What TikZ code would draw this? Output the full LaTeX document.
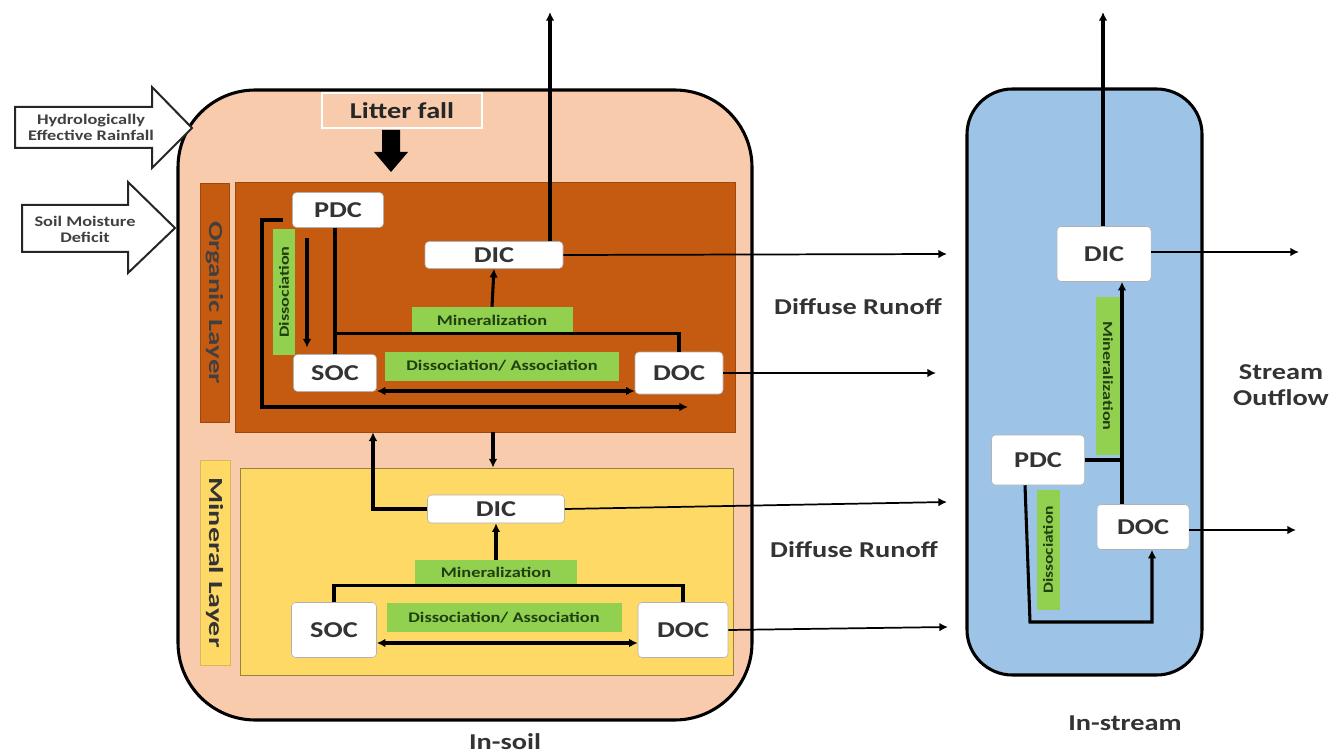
\documentclass[tikz,border=0pt]{standalone}
\usepackage{fontspec}
\setmainfont{Carlito}
\usetikzlibrary{arrows.meta}
\definecolor{soil}{HTML}{F8CBAD}
\definecolor{organic}{HTML}{C55A11}
\definecolor{mineral}{HTML}{FFD966}
\definecolor{stream}{HTML}{9DC3E6}
\definecolor{lgreen}{HTML}{92D050}
\definecolor{dgreen}{HTML}{1F3F10}
\definecolor{txt}{HTML}{333333}
\newcommand\hst[1]{\scalebox{1.25}[1]{#1}}
\newcommand\vst[2]{\scalebox{#1}[1]{#2}}
\tikzset{
  wh/.style 2 args={minimum width=#1*0.75pt, minimum height=#2*0.75pt, inner sep=0pt},
  cbox/.style={draw=black!30, fill=white, rounded corners=3pt, text=txt,
    font=\fontsize{17}{17}\selectfont\bfseries},
  glabel/.style={fill=lgreen, text=dgreen, font=\fontsize{11}{11}\selectfont\bfseries},
  glabelv/.style={fill=lgreen, text=dgreen, font=\fontsize{10.5}{10.5}\selectfont\bfseries},
  thickln/.style={line width=2.3pt, black},
  thinln/.style={line width=1.3pt, black},
  arr/.style={-{Latex[length=6.5pt,width=6.5pt]}},
  darr/.style={{Latex[length=6.5pt,width=6.5pt]}-{Latex[length=6.5pt,width=6.5pt]}},
  bigtxt/.style={text=txt, font=\fontsize{17}{17}\selectfont\bfseries},
  inarrow/.style={draw=black!85, line width=1.5pt, fill=white, line join=miter},
  intxt/.style={text=black!75, font=\fontsize{11}{11}\selectfont\bfseries, align=center},
}
\begin{document}
\begin{tikzpicture}[x=0.75pt,y=-0.75pt]
\useasboundingbox (0,0) rectangle (1330,755);

% ---------------- In-soil compartment
\node[draw=black, line width=2.3pt, fill=soil, rounded corners=58pt, wh={574}{630}] (soil) at (465,405) {};
\node[draw=white, line width=1.8pt, fill=soil, wh={160}{35}, bigtxt, text=black!85] (litter) at (402,110.5) {\hst{Litter fall}};
\fill[black] (382,130) -- (400,130) -- (400,152) -- (408,152) -- (391,172) -- (374,152) -- (382,152) -- cycle;

\node[fill=organic, draw=organic!80!black, line width=0.4pt, wh={29}{239}] (orglab) at (214.5,302.5) {};
\node[rotate=-90, text=black!75, font=\fontsize{15}{15}\selectfont\bfseries] (orgtxt) at (orglab) {\vst{1.45}{Organic Layer}};
\node[fill=organic, draw=organic!80!black, line width=0.5pt, wh={500}{250}] (org) at (485,307) {};

\node[fill=mineral, draw=mineral!85!black, line width=0.4pt, wh={30}{205}] (minlab) at (215,562.5) {};
\node[rotate=-90, text=black!80, font=\fontsize{15}{15}\selectfont\bfseries] (mintxt) at (minlab) {\vst{1.5}{Mineral Layer}};
\node[fill=mineral, draw=mineral!60!black, line width=0.6pt, wh={493}{207}] (minb) at (486.5,571.5) {};

% organic layer contents
\node[cbox, wh={91}{35}] (pdc1) at (338,210) {\hst{PDC}};
\node[cbox, wh={138}{27}] (dic1) at (494,255) {\hst{DIC}};
\node[cbox, wh={83}{37}] (soc1) at (335,373) {\hst{SOC}};
\node[cbox, wh={88}{42}] (doc1) at (679,373) {\hst{DOC}};
\node[glabel, wh={161}{26}] (min1) at (492,320) {\hst{Mineralization}};
\node[glabel, wh={234}{29}] (da1) at (502,366) {\hst{Dissociation/ Association}};
\node[glabelv, rotate=90, wh={125}{22}] (dis1) at (284,292) {\vst{1.3}{Dissociation}};

\coordinate (top1) at (550,12);
\coordinate (r1) at (947,254);
\coordinate (r2) at (936,373);
\coordinate (c307) at (307,0);
\coordinate (row1) at (0,391);
\coordinate (l1) at (262,407);
\coordinate (l2) at (688,407);

\draw[thickln, arr] (dic1.north -| top1) -- (top1);
\draw[thinln, arr] (dic1.east) -- (r1);
\draw[thickln, arr] (min1.north) -- (dic1.south);
\draw[thickln, arr, shorten <=8pt, shorten >=5pt] (pdc1.south -| c307) -- (soc1.north -| c307);
\draw[thickln] (soc1.north) -- (soc1.north |- pdc1.south);
\draw[thickln] (soc1.north) ++(0,-20) |- (min1.south) -| (doc1.north);
\draw[thickln, darr] (soc1.east |- row1) -- (doc1.west |- row1);
\draw[thickln, arr] ([yshift=-7.5pt, xshift=-7pt]pdc1.west) -| (l1) -- (l2);
\draw[thinln, arr] (doc1.east) -- (r2);

% between layers
\coordinate (c493) at (493,0);
\coordinate (c373) at (373,0);
\draw[thickln, arr] (org.south -| c493) -- (minb.north -| c493);

% mineral layer contents
\node[cbox, wh={137}{28}] (dic2) at (496,509) {\hst{DIC}};
\node[cbox, wh={85}{55}] (soc2) at (334,630) {\hst{SOC}};
\node[cbox, wh={90}{55}] (doc2) at (683,630) {\hst{DOC}};
\node[glabel, wh={162}{25}] (min2) at (496,572.5) {\hst{Mineralization}};
\node[glabel, wh={235}{29}] (da2) at (504,617.5) {\hst{Dissociation/ Association}};

\coordinate (row2) at (0,643);
\coordinate (r3) at (947,502);
\coordinate (r4) at (948,627);
\draw[thickln, arr] (dic2.west) -| (c373 |- org.south);
\draw[thinln, arr] (dic2.east) -- (r3);
\draw[thickln, arr] (min2.north) -- (dic2.south);
\draw[thickln] (soc2.north) |- (min2.south) -| (doc2.north);
\draw[thickln, darr] (soc2.east |- row2) -- (doc2.west |- row2);
\draw[thinln, arr] (doc2.east) -- (r4);

\node[bigtxt] (dr1) at (858,307) {\hst{Diffuse Runoff}};
\node[bigtxt] (dr2) at (854,550) {\hst{Diffuse Runoff}};
\node[bigtxt] (insoil) at (505,742) {\hst{In-soil}};

% input arrows
\draw[inarrow] (15,107) -- (152,107) -- (152,87) -- (192,128) -- (152,168) -- (152,148) -- (15,148) -- cycle;
\node[intxt] (her) at (91,127) {\hst{Hydrologically}\\[1pt]\hst{Effective Rainfall}};
\draw[inarrow] (22,205) -- (128,205) -- (128,182) -- (175,228) -- (128,273) -- (128,252) -- (22,252) -- cycle;
\node[intxt] (smd) at (85,229) {\hst{Soil Moisture}\\[1pt]\hst{Deficit}};

% ---------------- In-stream compartment
\node[draw=black, line width=2.3pt, fill=stream, rounded corners=34pt, wh={235}{586}] (sbox) at (1084.5,382) {};
\node[cbox, wh={94}{55}] (dic3) at (1104,254) {\hst{DIC}};
\node[cbox, wh={93}{50}] (pdc3) at (1038,460) {\hst{PDC}};
\node[cbox, wh={92}{45}] (doc3) at (1143,527) {\hst{DOC}};
\node[glabelv, rotate=-90, wh={157}{24}] (min3) at (1108,376) {\vst{1.3}{Mineralization}};
\node[glabelv, rotate=90, wh={120}{23}] (dis3) at (1048,550) {\vst{1.25}{Dissociation}};

\coordinate (top2) at (1103,12);
\coordinate (c1122) at (1122,0);
\coordinate (c1025) at (1025,0);
\coordinate (b3) at (1030,622);
\coordinate (c1152) at (1152,0);
\coordinate (r5) at (1299,252);
\coordinate (r6) at (1296,530);
\draw[thickln, arr] (dic3.north -| top2) -- (top2);
\draw[thinln, arr] (dic3.east |- r5) -- (r5);
\draw[thickln, arr] (doc3.north -| c1122) -- (dic3.south -| c1122);
\draw[thickln] (pdc3.east) -- (pdc3.east -| c1122);
\draw[thickln, arr] (pdc3.south -| c1025) -- (b3) -| (doc3.south -| c1152);
\draw[thinln, arr] (doc3.east |- r6) -- (r6);

\node[bigtxt, align=center] (so) at (1281,385) {\hst{Stream}\\[3pt]\hst{Outflow}};
\node[bigtxt] (instream) at (1125,723) {\hst{In-stream}};
\end{tikzpicture}
\end{document}
